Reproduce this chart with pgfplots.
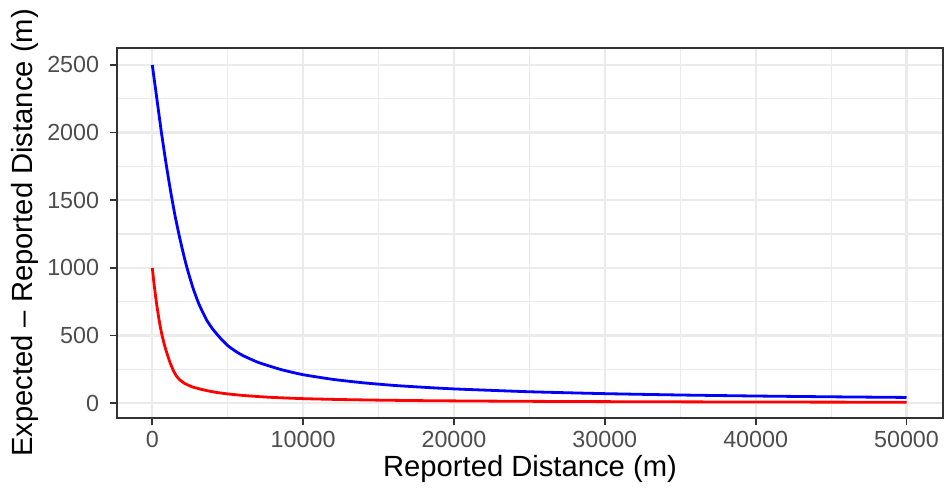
\documentclass[border=0pt]{standalone}
\usepackage{fontspec}
\setmainfont{Liberation Sans}
\usepackage{pgfplots}
\pgfplotsset{compat=1.18}

\definecolor{gridgray}{HTML}{EBEBEB}
\definecolor{framegray}{HTML}{333333}
\definecolor{ticktext}{HTML}{4D4D4D}

\begin{document}
\begin{tikzpicture}
\useasboundingbox (-117bp,-78bp) rectangle (829bp,418bp);
\begin{axis}[
  scale only axis,
  width=826bp, height=370bp,
  xmin=-2340, xmax=52420,
  ymin=-110, ymax=2625,
  xtick={0,10000,20000,30000,40000,50000},
  ytick={0,500,1000,1500,2000,2500},
  minor xtick={5000,15000,25000,35000,45000},
  minor ytick={250,750,1250,1750,2250},
  grid=both,
  major grid style={color=gridgray, line width=2.2bp},
  minor grid style={color=gridgray, line width=1.1bp},
  axis line style={color=framegray, line width=1.8bp},
  xtick pos=bottom, ytick pos=left,
  tick align=outside,
  major tick length=7.3bp,
  minor tick length=0pt,
  every tick/.style={color=framegray, line width=1.8bp},
  /pgf/number format/assume math mode=true,
  /pgf/number format/1000 sep={},
  scaled ticks=false,
  ticklabel style={font=\fontsize{23.3bp}{28bp}\selectfont, text=ticktext, inner sep=0pt},
  xticklabel style={anchor=north, yshift=-5.8bp},
  yticklabel style={anchor=east, xshift=-10.4bp},
  xlabel={Reported Distance (m)},
  ylabel={Expected -- Reported Distance (m)},
  label style={font=\fontsize{29.2bp}{35bp}\selectfont, inner sep=0pt},
  xlabel style={at={(rel axis cs:0.5,0)}, anchor=north, yshift=-37bp},
  ylabel style={at={(rel axis cs:0,0.5)}, anchor=south, yshift=78bp},
]
% upper curve
\addplot[color={rgb,255:red,0;green,0;blue,255}, line width=2.8bp, line join=round, smooth, tension=0.3] coordinates {
  (0,2500) (300,2252) (600,2005) (900,1780) (1200,1575) (1500,1390)
  (1800,1230) (2050,1110) (2300,1000) (2700,850) (3100,730)
  (3600,615) (4000,548) (4500,482) (5000,425) (5500,385) (6000,352)
  (7000,302) (8500,249) (10000,210) (12000,175) (14000,150)
  (16000,131) (18000,117) (20000,105) (25000,84) (30000,70)
  (35000,60) (40000,52.5) (45000,46.7) (50000,42)
};
% lower curve
\addplot[color={rgb,255:red,255;green,0;blue,0}, line width=2.8bp, line join=round, smooth, tension=0.3] coordinates {
  (0,1000) (120,878) (265,750) (450,615) (620,515) (800,432)
  (1000,358) (1200,293) (1400,240) (1600,200) (1823,172)
  (2150,145) (2700,118) (3470,96) (4200,80) (5000,68) (6000,57)
  (7090,48) (8000,42) (10000,33) (12500,26.5) (15000,22)
  (17500,18.7) (20000,16.5) (25000,13.2) (30000,11) (35000,9.4)
  (40000,8.2) (45000,7.3) (50000,6.6)
};
\end{axis}
\end{tikzpicture}
\end{document}
